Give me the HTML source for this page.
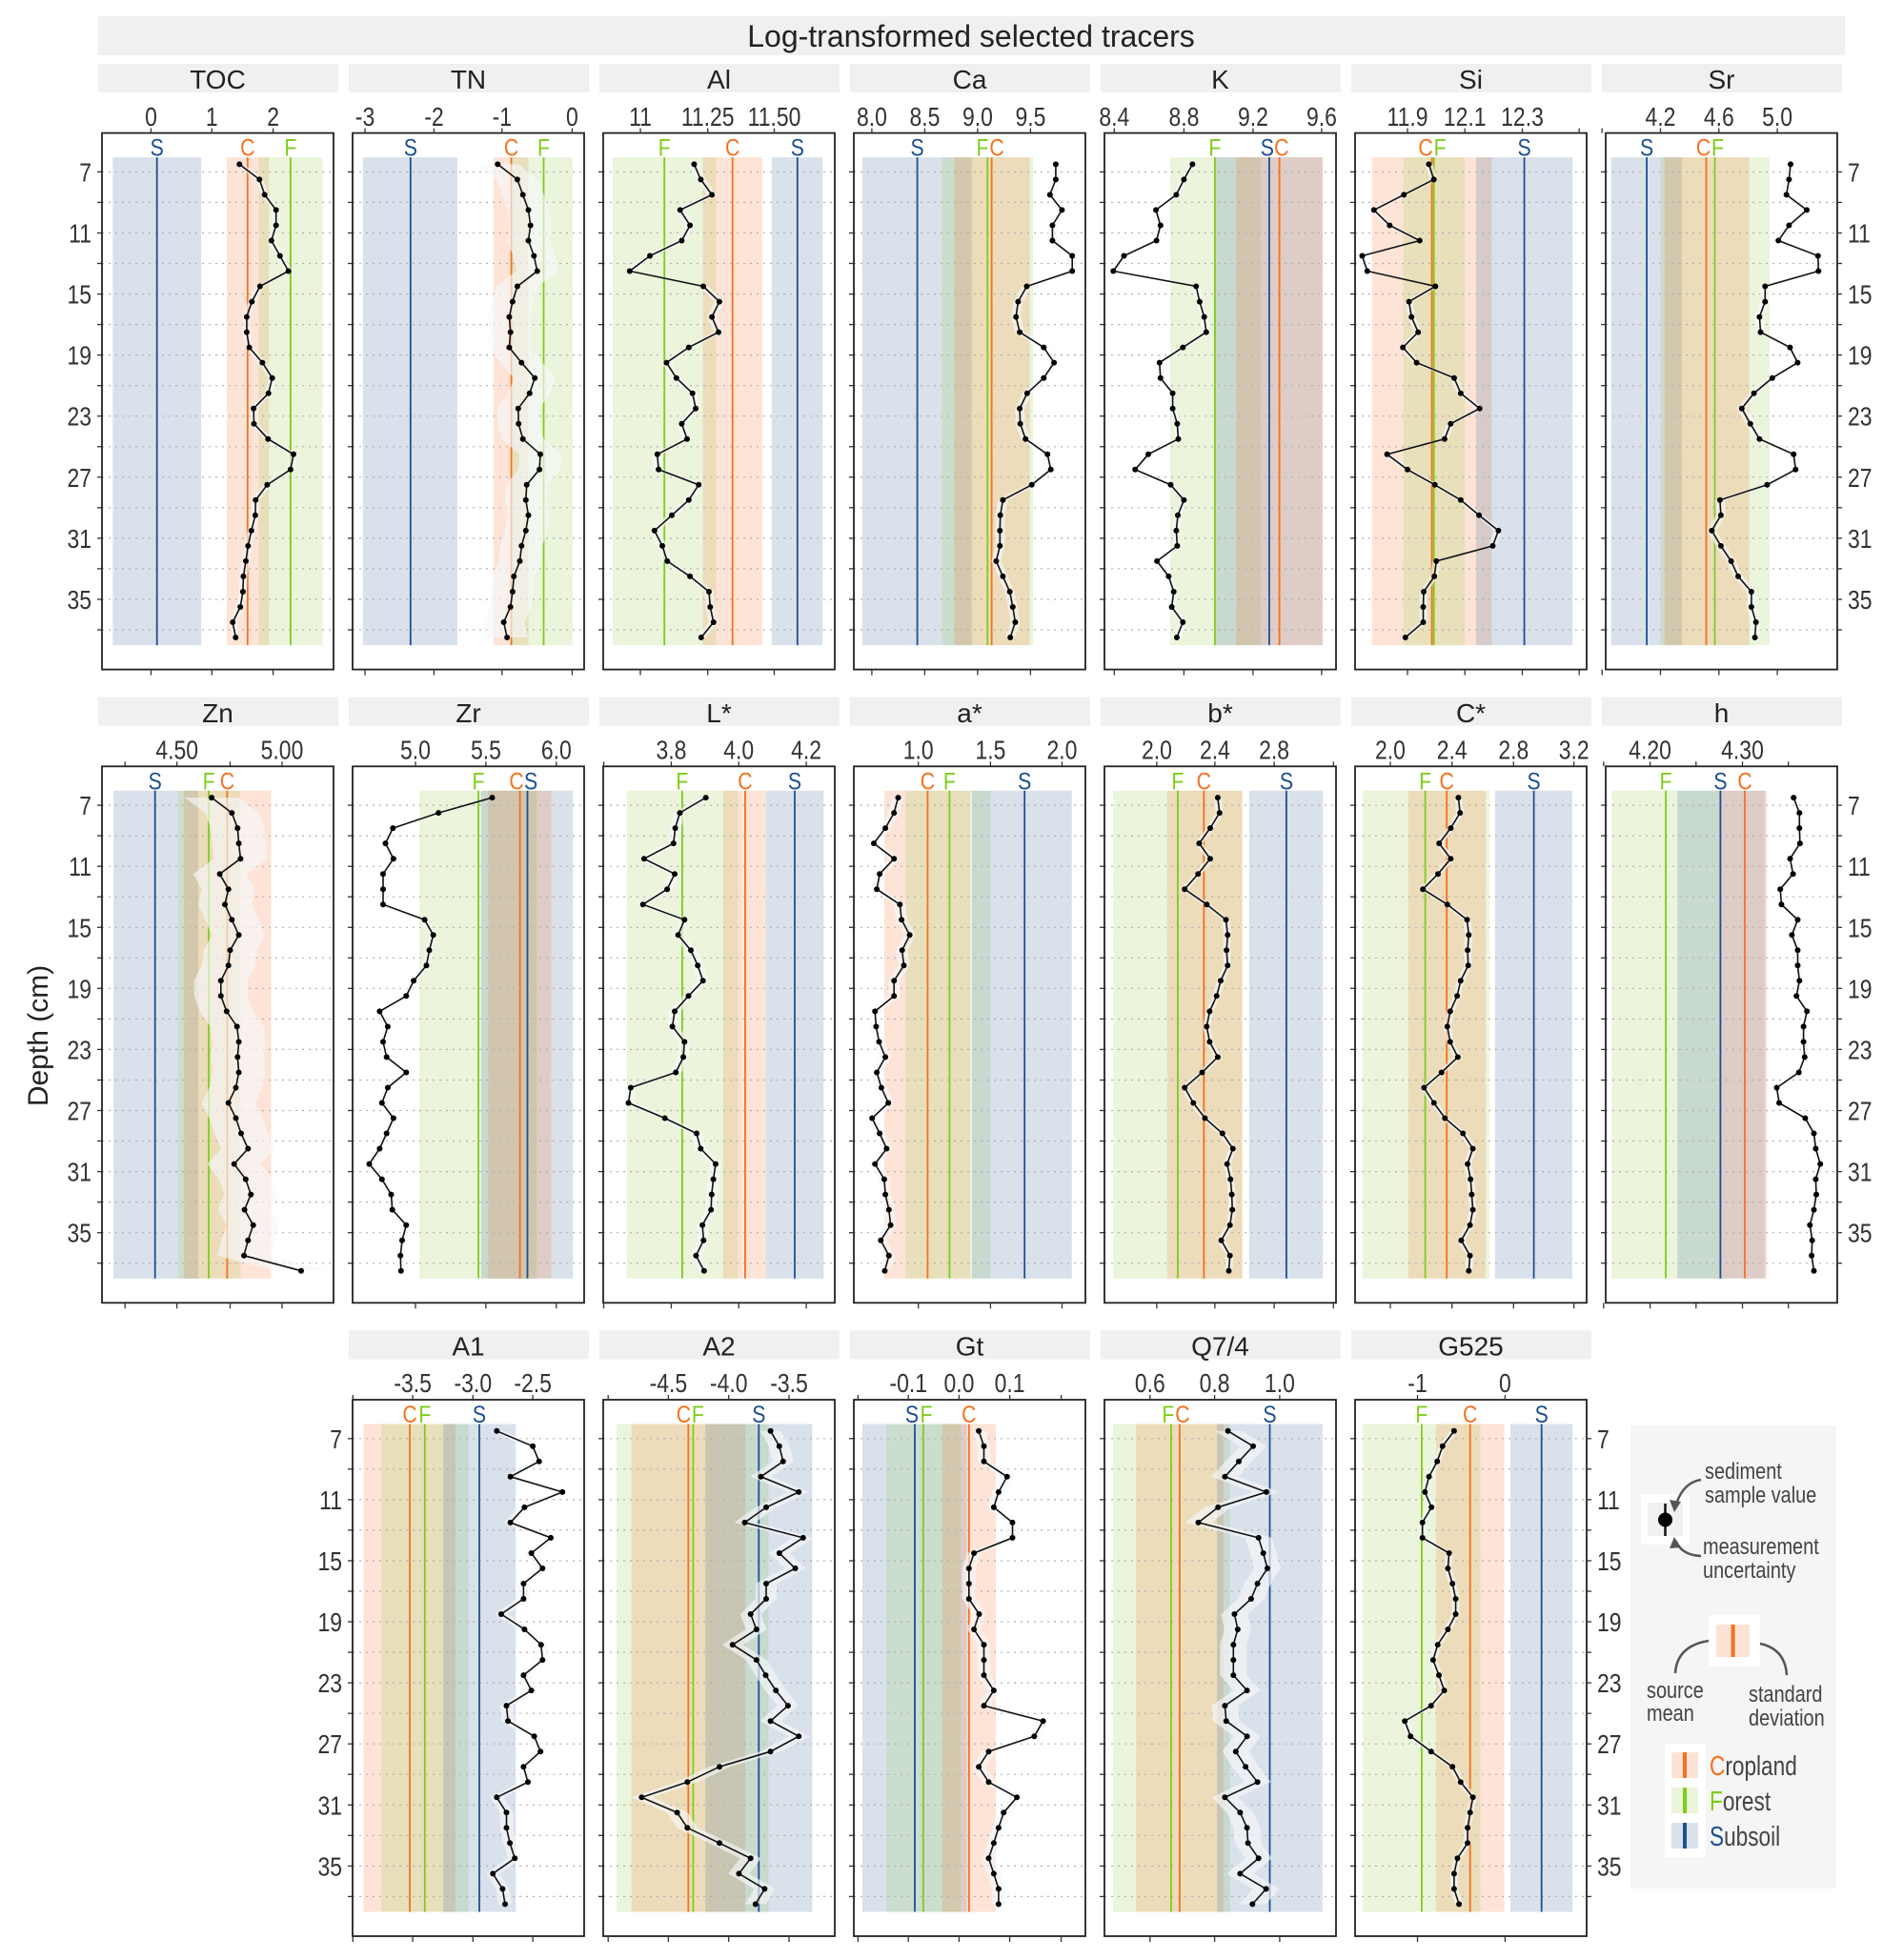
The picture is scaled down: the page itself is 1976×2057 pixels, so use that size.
<!DOCTYPE html>
<html><head><meta charset="utf-8"><style>
html,body{margin:0;padding:0;background:#fff;}
svg{display:block;}
text{font-family:"Liberation Sans",sans-serif;}
</style></head><body>
<svg id="s" width="1976" height="2057" viewBox="0 0 1976 2057" xmlns="http://www.w3.org/2000/svg">
<rect x="0" y="0" width="1976" height="2057" fill="#fff"/>
<rect x="103" y="17" width="1833" height="41" fill="#f0f0f0"/>
<text x="1019" y="49" font-size="32" text-anchor="middle" fill="#222">Log-transformed selected tracers</text>
<text transform="translate(50,1087) rotate(-90)" font-size="30" text-anchor="middle" fill="#222">Depth (cm)</text>
<g id="panels"></g>
<g id="legend">
<rect x="1711" y="1496" width="216" height="486" fill="#f5f5f5"/>
<rect x="1722" y="1568" width="51" height="53" fill="#fff"/>
<rect x="1729" y="1577" width="37" height="35" fill="#f0f0f0"/>
<line x1="1747.5" y1="1578" x2="1747.5" y2="1612" stroke="#111" stroke-width="2.5"/>
<circle cx="1747.5" cy="1595" r="7.5" fill="#000"/>
<g font-size="24" fill="#444">
<text transform="translate(1789,1552) scale(.83,1)">sediment</text>
<text transform="translate(1789,1577) scale(.83,1)">sample value</text>
<text transform="translate(1787,1631) scale(.83,1)">measurement</text>
<text transform="translate(1787,1656) scale(.83,1)">uncertainty</text>
<text transform="translate(1728,1782) scale(.83,1)">source</text>
<text transform="translate(1728,1806) scale(.83,1)">mean</text>
<text transform="translate(1835,1786) scale(.83,1)">standard</text>
<text transform="translate(1835,1811) scale(.83,1)">deviation</text>
</g>
<g fill="none" stroke="#555" stroke-width="2.5">
<path d="M1785,1553 Q1765,1556 1758,1582"/>
<path d="M1785,1633 Q1765,1632 1759,1618"/>
<path d="M1758,1756 Q1760,1722 1806,1721"/>
<path d="M1875,1758 Q1873,1727 1840,1724"/>
</g>
<g fill="#555">
<polygon points="1752,1574 1764,1576 1757,1587"/>
<polygon points="1752,1625 1764,1624 1757,1613"/>
<polygon points="1802,1715 1814,1721 1802,1728"/>
<polygon points="1844,1717 1832,1724 1843,1731"/>
</g>
<rect x="1793" y="1695" width="54" height="54" fill="#fff"/>
<rect x="1801" y="1705" width="35" height="34" fill="#fde3d6"/>
<line x1="1818.6" y1="1705" x2="1818.6" y2="1739" stroke="#f4711f" stroke-width="4"/>
<rect x="1747" y="1830" width="43" height="119" fill="#fff"/>
<rect x="1754" y="1839" width="28" height="27" fill="#fde3d6"/>
<line x1="1768" y1="1839" x2="1768" y2="1866" stroke="#f4711f" stroke-width="4"/>
<rect x="1754" y="1876" width="28" height="27" fill="#eaf5dc"/>
<line x1="1768" y1="1876" x2="1768" y2="1903" stroke="#7fcc1c" stroke-width="4"/>
<rect x="1754" y="1913" width="28" height="27" fill="#d9e1eb"/>
<line x1="1768" y1="1913" x2="1768" y2="1940" stroke="#1d4f91" stroke-width="4"/>
<g font-size="29" fill="#444">
<text transform="translate(1794,1863) scale(.78,1)"><tspan fill="#f4711f">C</tspan>ropland</text>
<text transform="translate(1794,1900) scale(.78,1)"><tspan fill="#7fcc1c">F</tspan>orest</text>
<text transform="translate(1794,1937) scale(.78,1)"><tspan fill="#1d4f91">S</tspan>ubsoil</text>
</g>
</g>
</svg>
<script>
var COL={C:"#f4711f",F:"#7fcc1c",S:"#1d4f91"};
var BAND={C:"rgba(245,120,50,0.2)",F:"rgba(150,205,80,0.2)",S:"rgba(65,105,155,0.2)"};
var P=[
{n:"TOC",r:0,c:0,zs:2.24,zo:0,t:[[355,"0"],[498,"1"],[642,"2"]],b:[[265,473,"S"],[533,632,"C"],[608,758,"F"]],l:{S:369,C:582,F:683},e:4,
d:[563,610,622,649,649,638,658,678,611,592,580,580,586,617,640,631,596,597,630,690,683,628,601,600,591,583,578,572,571,565,547,554]},
{n:"TN",r:0,c:1,zs:2.24,zo:0,t:[[858,"-3"],[1020,"-2"],[1180,"-1"],[1345,"0"]],b:[[853,1075,"S"],[1160,1242,"C"],[1205,1346,"F"]],l:{S:965,C:1202,F:1278},e:22,
d:[1170,1216,1229,1242,1247,1242,1255,1263,1216,1205,1197,1200,1197,1226,1257,1245,1218,1219,1229,1270,1268,1238,1236,1242,1236,1226,1222,1208,1205,1200,1184,1192]},
{n:"Al",r:0,c:2,zs:2.306,zo:620,t:[[120,"11"],[283,"11.25"],[444,"11.50"]],b:[[53,303,"F"],[271,415,"C"],[438,561,"S"]],l:{F:178,C:343,S:500},e:5,
d:[250,266,293,216,240,220,143,94,272,311,293,309,237,183,207,246,254,220,233,161,164,261,237,196,154,173,185,240,286,289,297,267]},
{n:"Ca",r:0,c:3,zs:2.306,zo:620,t:[[680,"8.0"],[808,"8.5"],[936,"9.0"],[1064,"9.5"]],b:[[657,922,"S"],[850,1070,"F"],[880,1062,"C"]],l:{S:790,F:960,C:970},e:5,
d:[1125,1125,1111,1140,1117,1117,1165,1165,1055,1034,1029,1038,1096,1121,1096,1056,1038,1039,1052,1105,1113,1067,997,991,990,990,981,997,1014,1021,1027,1015]},
{n:"K",r:0,c:4,zs:1.8756,zo:1140,t:[[55,"8.4"],[192,"8.8"],[328,"9.2"],[463,"9.6"]],b:[[165,343,"F"],[253,465,"S"],[295,465,"C"]],l:{F:253,S:360,C:380},e:4,
d:[209,192,177,137,146,138,74,53,216,223,232,236,190,144,146,170,170,179,181,122,96,166,192,180,177,179,139,162,172,168,190,178]},
{n:"Si",r:0,c:5,zs:1.8756,zo:1140,t:[[632,"11.9"],[745,"12.1"],[858,"12.3"],[970,""]],b:[[562,798,"C"],[624,745,"F"],[767,957,"S"]],l:{C:680,F:684,S:862},e:4,
d:[674,684,625,566,597,656,543,553,687,635,640,653,623,650,724,737,774,717,705,592,632,686,737,773,811,800,689,685,664,663,663,628]},
{n:"Sr",r:0,c:6,zs:1.8756,zo:1140,t:[[1015,""],[1130,"4.2"],[1245,"4.6"],[1360,"5.0"]],b:[[1033,1172,"S"],[1130,1345,"F"],[1138,1305,"C"]],l:{S:1103,C:1220,F:1237},e:5,
d:[1386,1383,1378,1418,1383,1362,1440,1441,1336,1336,1325,1327,1385,1400,1350,1314,1290,1307,1325,1392,1396,1340,1247,1249,1231,1249,1269,1283,1309,1309,1318,1316]},
{n:"Zn",r:1,c:0,zs:1.6505,zo:90,t:[[68,""],[158,"4.50"],[250,""],[340,"5.00"]],b:[[48,195,"S"],[160,268,"F"],[170,321,"C"]],l:{S:120,F:213,C:245},e:28,
d:[218,253,263,265,268,232,247,241,253,265,250,247,234,234,244,262,265,263,265,260,247,260,269,281,257,277,286,275,290,281,274,373]},
{n:"Zr",r:1,c:1,zs:1.6505,zo:90,t:[[571,"5.0"],[693,"5.5"],[815,"6.0"]],b:[[578,781,"F"],[685,844,"S"],[697,806,"C"]],l:{F:680,C:752,S:765},e:4,
d:[704,611,532,519,533,515,515,515,587,602,595,590,568,555,509,523,515,521,555,523,513,533,521,509,491,513,529,531,555,548,545,546]},
{n:"L*",r:1,c:2,zs:1.6505,zo:90,t:[[897,""],[1014,"3.8"],[1131,"4.0"],[1248,"4.2"]],b:[[937,1130,"F"],[1104,1178,"C"],[1178,1278,"S"]],l:{F:1033,C:1142,S:1228},e:6,
d:[1074,1029,1021,1018,967,1020,1007,965,1037,1026,1048,1060,1069,1044,1020,1016,1037,1035,1022,944,940,1003,1058,1065,1091,1087,1084,1083,1068,1070,1057,1071]},
{n:"a*",r:1,c:3,zs:1.6505,zo:90,t:[[1442,"1.0"],[1567,"1.5"],[1691,"2.0"]],b:[[1383,1532,"C"],[1420,1567,"F"],[1535,1708,"S"]],l:{C:1458,F:1496,S:1626},e:6,
d:[1407,1400,1385,1365,1400,1375,1370,1410,1413,1427,1414,1417,1400,1400,1367,1369,1374,1385,1370,1378,1390,1362,1375,1387,1367,1383,1385,1391,1394,1377,1391,1384]},
{n:"b*",r:1,c:4,zs:1.640,zo:1020,t:[[318,"2.0"],[418,"2.4"],[520,"2.8"],[622,""]],b:[[243,465,"F"],[336,465,"C"],[477,604,"S"]],l:{F:354,C:399,S:541},e:4,
d:[423,426,410,391,410,389,366,404,437,440,438,440,428,421,409,404,409,423,396,366,381,401,431,449,439,445,447,448,444,429,444,442]},
{n:"C*",r:1,c:5,zs:1.640,zo:1020,t:[[720,"2.0"],[826,"2.4"],[932,"2.8"],[1036,"3.2"]],b:[[672,890,"F"],[751,884,"C"],[900,1033,"S"]],l:{F:780,C:817,S:967},e:4,
d:[837,840,824,804,824,802,776,818,852,855,853,854,841,835,823,818,823,836,808,778,795,814,845,862,853,858,860,862,857,842,857,855]},
{n:"h",r:1,c:6,zs:1.640,zo:1020,t:[[1087,""],[1167,"4.20"],[1246,""],[1326,"4.30"],[1405,""]],b:[[1101,1288,"F"],[1214,1365,"S"],[1288,1368,"C"]],l:{F:1194,S:1288,C:1330},e:3,
d:[1414,1424,1424,1425,1408,1413,1391,1393,1421,1411,1421,1421,1424,1419,1437,1431,1431,1433,1423,1385,1389,1434,1449,1452,1460,1452,1453,1449,1442,1446,1445,1449]},
{n:"A1",r:2,c:1,zs:1.96,zo:355,t:[[30,""],[153,"-3.5"],[277,"-3.0"],[400,"-2.5"]],b:[[52,241,"C"],[89,268,"F"],[216,365,"S"]],l:{C:147,F:178,S:290},e:7,
d:[326,400,413,354,461,383,354,437,397,420,381,381,335,383,417,420,381,397,346,349,403,416,381,390,326,346,346,353,363,318,338,343]},
{n:"A2",r:2,c:2,zs:1.96,zo:355,t:[[555,""],[679,"-4.5"],[803,"-4.0"],[927,"-3.5"]],b:[[573,885,"F"],[603,837,"C"],[755,975,"S"]],l:{C:720,F:730,S:865},e:11,
d:[889,907,915,869,947,880,836,956,907,940,880,880,848,860,811,860,879,900,925,889,947,889,784,718,624,697,718,784,848,824,877,858]},
{n:"Gt",r:2,c:3,zs:2.8,zo:880,t:[[57,""],[205,"-0.1"],[354,"0.0"],[503,"0.1"],[654,""]],b:[[70,377,"S"],[140,358,"F"],[305,462,"C"]],l:{S:224,F:249,C:383},e:7,
d:[412,427,427,495,470,456,511,511,398,383,383,383,413,398,427,427,427,456,427,601,575,441,412,441,524,485,470,456,441,456,470,470]},
{n:"Q7/4",r:2,c:4,zs:2.8,zo:880,t:[[915,"0.6"],[1105,"0.8"],[1296,"1.0"]],b:[[806,1150,"F"],[874,1131,"C"],[1112,1422,"S"]],l:{F:977,C:1002,S:1267},e:14,
d:[1144,1218,1176,1135,1257,1115,1057,1234,1248,1260,1231,1212,1163,1173,1160,1160,1160,1200,1135,1139,1200,1167,1196,1231,1135,1180,1200,1203,1234,1180,1256,1216]},
{n:"G525",r:2,c:5,zs:2.3195,zo:1300,t:[[435,"-1"],[648,"0"]],b:[[302,588,"F"],[480,646,"C"],[661,812,"S"]],l:{F:445,C:563,S:737},e:4,
d:[524,496,483,463,453,469,447,447,512,509,520,528,528,509,484,473,487,500,468,404,418,468,520,540,570,563,557,557,532,524,524,536]}
];
var leftLab={"0_0":1,"1_0":1,"2_1":1}, rightLab={"0_6":1,"1_6":1,"2_5":1};
var W=243,H=563,out=[];
function f(v){return v.toFixed(1);}
P.forEach(function(p){
 var L=107+263*p.c, T=139.6+664.7*p.r, R=L+W, B=T+H;
 var X=function(v){return v/p.zs+p.zo;};
 var Y=function(d){return T+40.8+(d-7)*16.02;};
 out.push('<rect x="'+(L-4)+'" y="'+f(T-72.6)+'" width="252" height="30" fill="#f0f0f0"/>');
 out.push('<text x="'+(L+121.5)+'" y="'+f(T-46.4)+'" font-size="28" text-anchor="middle" fill="#222">'+p.n+'</text>');
 p.b.forEach(function(b){out.push('<rect x="'+f(X(b[0]))+'" y="'+f(T+25.5)+'" width="'+f((b[1]-b[0])/p.zs)+'" height="512" fill="'+BAND[b[2]]+'"/>');});
 for(var d=7;d<=37;d+=2){var y=f(Y(d));out.push('<line x1="'+L+'" x2="'+R+'" y1="'+y+'" y2="'+y+'" stroke="#b0b0b0" stroke-width="1.2" stroke-dasharray="2,5"/>');
  out.push('<line x1="'+(L-5)+'" x2="'+L+'" y1="'+y+'" y2="'+y+'" stroke="#333" stroke-width="1.3"/>');
  if(rightLab[p.r+"_"+p.c])out.push('<line x1="'+R+'" x2="'+(R+5)+'" y1="'+y+'" y2="'+y+'" stroke="#333" stroke-width="1.3"/>');}
 var labs=[];
 for(var k in p.l){var x=X(p.l[k]);out.push('<line x1="'+f(x)+'" x2="'+f(x)+'" y1="'+f(T+25.5)+'" y2="'+f(T+537.5)+'" stroke="'+COL[k]+'" stroke-width="1.8"/>');labs.push([x,k]);}
 labs.sort(function(a,b){return a[0]-b[0];});
 for(var it=0;it<5;it++)for(var i=1;i<labs.length;i++){var g=labs[i][0]-labs[i-1][0];if(g<15){var s=(15-g)/2;labs[i][0]+=s;labs[i-1][0]-=s;}}
 labs.forEach(function(a){out.push('<text transform="translate('+f(a[0])+','+f(T+24)+') scale(.85,1)" font-size="25" text-anchor="middle" fill="'+COL[a[1]]+'">'+a[1]+'</text>');});
 var pts=p.d.map(function(v,i){return [X(v),Y(6.5+i)];});
 var e=p.e, up=pts.map(function(q){return f(q[0]+e)+','+f(q[1]);}), dn=pts.map(function(q){return f(q[0]-e)+','+f(q[1]);}).reverse();
 out.push('<polygon points="'+up.concat(dn).join(' ')+'" fill="rgba(246,247,250,0.65)"/>');
 out.push('<polyline points="'+pts.map(function(q){return f(q[0])+','+f(q[1]);}).join(' ')+'" fill="none" stroke="#111" stroke-width="1.6"/>');
 pts.forEach(function(q){out.push('<circle cx="'+f(q[0])+'" cy="'+f(q[1])+'" r="3" fill="#000"/>');});
 out.push('<rect x="'+L+'" y="'+f(T)+'" width="'+W+'" height="'+H+'" fill="none" stroke="#222" stroke-width="1.8"/>');
 p.t.forEach(function(t){var x=f(X(t[0]));
  out.push('<line x1="'+x+'" x2="'+x+'" y1="'+f(B)+'" y2="'+f(B+6)+'" stroke="#333" stroke-width="1.3"/>');
  out.push('<line x1="'+x+'" x2="'+x+'" y1="'+f(T-5)+'" y2="'+f(T)+'" stroke="#333" stroke-width="1.3"/>');
  if(t[1])out.push('<text transform="translate('+x+','+f(T-7.8)+') scale(.82,1)" font-size="28" text-anchor="middle" fill="#333">'+t[1]+'</text>');});
 for(var d=7;d<=35;d+=4){var y=f(Y(d)+10);
  if(leftLab[p.r+"_"+p.c])out.push('<text transform="translate('+(L-11)+','+y+') scale(.82,1)" font-size="28" text-anchor="end" fill="#333">'+d+'</text>');
  if(rightLab[p.r+"_"+p.c])out.push('<text transform="translate('+(R+11)+','+y+') scale(.82,1)" font-size="28" fill="#333">'+d+'</text>');}
});
document.getElementById("panels").innerHTML=out.join("");
</script>
</body></html>
